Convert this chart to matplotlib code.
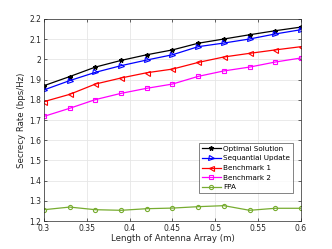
import matplotlib
matplotlib.use("Agg")
from matplotlib import pyplot as plt

# array length (m)
length = [0.30, 0.33, 0.36, 0.39, 0.42, 0.45, 0.48, 0.51, 0.54, 0.57, 0.60]

optimal = [1.870, 1.915, 1.962, 1.995, 2.023, 2.047, 2.080, 2.101, 2.122, 2.142, 2.160]
sequential = [1.849, 1.895, 1.936, 1.969, 1.997, 2.023, 2.063, 2.081, 2.101, 2.126, 2.147]
bench1 = [1.791, 1.827, 1.878, 1.908, 1.934, 1.952, 1.985, 2.012, 2.030, 2.047, 2.063]
bench2 = [1.718, 1.758, 1.801, 1.832, 1.857, 1.878, 1.916, 1.943, 1.962, 1.987, 2.007]
fpa = [1.256, 1.269, 1.256, 1.253, 1.261, 1.264, 1.271, 1.276, 1.253, 1.263, 1.263]

xticks = [0.3, 0.35, 0.4, 0.45, 0.5, 0.55, 0.6]
yticks = [1.2, 1.3, 1.4, 1.5, 1.6, 1.7, 1.8, 1.9, 2.0, 2.1, 2.2]
ytick_labels = ['1.2', '1.3', '1.4', '1.5', '1.6', '1.7', '1.8', '1.9', '2', '2.1', '2.2']
xtick_labels = ['0.3', '0.35', '0.4', '0.45', '0.5', '0.55', '0.6']

fig = plt.figure(figsize=(3.32, 2.49), dpi=100)
ax = fig.add_axes([0.1325, 0.1124, 0.7741, 0.8113])

lw = 0.9
ms = 3.0
ax.plot(length, optimal, color='black', marker='*', markersize=ms + 0.3, lw=lw,
        label='Optimal Solution')
ax.plot(length, sequential, color='#0000ff', marker='>', markersize=ms + 0.6, lw=lw,
        mfc='none', mew=0.8, label='Sequantial Update')
ax.plot(length, bench1, color='#ff0000', marker='<', markersize=ms + 0.6, lw=lw,
        mfc='none', mew=0.8, label='Benchmark 1')
ax.plot(length, bench2, color='#ff00ff', marker='s', markersize=ms, lw=lw,
        mfc='none', mew=0.8, label='Benchmark 2')
ax.plot(length, fpa, color='#77ac30', marker='o', markersize=ms, lw=lw,
        mfc='none', mew=0.8, label='FPA')

ax.set_xlim(0.3, 0.6)
ax.set_ylim(1.2, 2.2)
ax.set_xticks(xticks)
ax.set_xticklabels(xtick_labels)
ax.set_yticks(yticks)
ax.set_yticklabels(ytick_labels)
ax.grid(True, color='#e6e6e6', lw=0.6)
ax.set_axisbelow(True)
ax.tick_params(direction='in', length=2.5, width=0.5, labelsize=5.5,
               colors='#262626', top=True, right=True, pad=2)
for s in ax.spines.values():
    s.set_linewidth(0.5)
    s.set_color('#262626')

ax.set_xlabel('Length of Antenna Array (m)', fontsize=6.2, color='#262626', labelpad=1)
ax.set_ylabel('Secrecy Rate (bps/Hz)', fontsize=6.2, color='#262626', labelpad=2)

leg = ax.legend(loc='lower right', bbox_to_anchor=(0.969, 0.139), fontsize=5.2,
                frameon=True, fancybox=False, edgecolor='#262626',
                handlelength=2.6, handletextpad=0.4, labelspacing=0.5,
                borderpad=0.35, borderaxespad=0)
leg.get_frame().set_linewidth(0.5)

fig.savefig('out.png', dpi=100)
